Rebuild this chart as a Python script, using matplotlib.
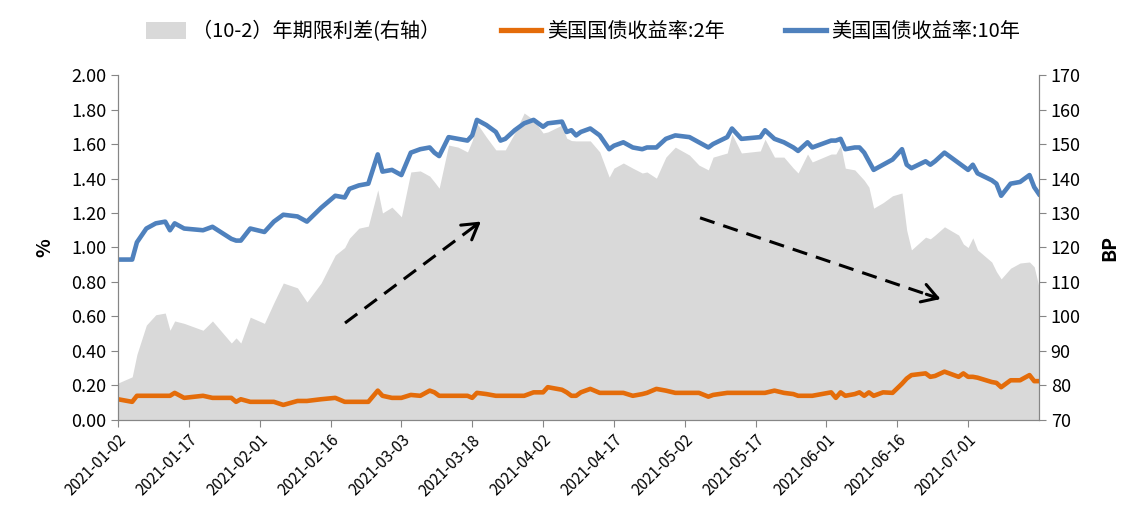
import matplotlib
matplotlib.use("Agg")
import matplotlib.pyplot as plt
import matplotlib.dates as mdates
import matplotlib.ticker as ticker
from matplotlib.patches import Patch
from matplotlib.lines import Line2D
import pandas as pd

plt.rcParams['font.family'] = ['Noto Sans CJK SC', 'DejaVu Sans']

# --- data (days counted from 2021-01-02)
day = [0, 3, 4, 6, 8, 10, 11, 12, 14, 18, 20, 24, 25, 26, 28, 31, 33, 35, 38, 40,
       43, 46, 48, 49, 51, 53, 55, 56, 58, 60, 62, 64, 66, 67, 68, 70, 72, 74, 75, 76,
       78, 80, 81, 82, 84, 86, 88, 90, 91, 94, 95, 96, 97, 98, 100, 102, 104, 105, 107, 109,
       111, 112, 114, 116, 118, 121, 123, 125, 126, 129, 130, 132, 136, 137, 139, 141, 143, 144, 146, 147,
       151, 152, 153, 154, 156, 157, 158, 159, 160, 162, 164, 166, 167, 168, 171, 172, 173, 175, 178, 179,
       180, 181, 182, 185, 186, 187, 189, 191, 193, 194, 195]

us10y = [0.93, 0.93, 1.03, 1.11, 1.14, 1.15, 1.10, 1.14, 1.11, 1.10, 1.12, 1.05, 1.04, 1.04, 1.11, 1.09, 1.15, 1.19, 1.18, 1.15,
         1.23, 1.30, 1.29, 1.34, 1.36, 1.37, 1.54, 1.44, 1.45, 1.42, 1.55, 1.57, 1.58, 1.55, 1.53, 1.64, 1.63, 1.62, 1.65, 1.74,
         1.71, 1.67, 1.62, 1.63, 1.68, 1.72, 1.74, 1.70, 1.72, 1.73, 1.67, 1.68, 1.65, 1.67, 1.69, 1.65, 1.57, 1.59, 1.61, 1.58,
         1.57, 1.58, 1.58, 1.63, 1.65, 1.64, 1.61, 1.58, 1.60, 1.64, 1.69, 1.63, 1.64, 1.68, 1.63, 1.61, 1.58, 1.56, 1.61, 1.58,
         1.62, 1.62, 1.63, 1.57, 1.58, 1.58, 1.55, 1.50, 1.45, 1.48, 1.51, 1.57, 1.48, 1.46, 1.50, 1.48, 1.50, 1.55, 1.49, 1.47,
         1.45, 1.48, 1.43, 1.39, 1.37, 1.30, 1.37, 1.38, 1.42, 1.35, 1.31]

us2y = [0.12, 0.105, 0.14, 0.14, 0.14, 0.14, 0.14, 0.157, 0.128, 0.14, 0.128, 0.128, 0.105, 0.12, 0.105, 0.105, 0.105, 0.087, 0.11, 0.11,
        0.12, 0.128, 0.105, 0.105, 0.105, 0.105, 0.17, 0.14, 0.128, 0.128, 0.145, 0.14, 0.17, 0.16, 0.14, 0.14, 0.14, 0.14, 0.128, 0.157,
        0.15, 0.14, 0.14, 0.14, 0.14, 0.14, 0.16, 0.16, 0.19, 0.175, 0.16, 0.14, 0.14, 0.16, 0.18, 0.157, 0.157, 0.157, 0.157, 0.14,
        0.15, 0.157, 0.18, 0.17, 0.157, 0.157, 0.157, 0.135, 0.145, 0.157, 0.157, 0.157, 0.157, 0.157, 0.17, 0.157, 0.15, 0.14, 0.14, 0.14,
        0.16, 0.128, 0.16, 0.14, 0.15, 0.16, 0.14, 0.16, 0.14, 0.16, 0.157, 0.21, 0.24, 0.26, 0.27, 0.25, 0.255, 0.28, 0.25, 0.27,
        0.25, 0.25, 0.245, 0.22, 0.215, 0.19, 0.23, 0.23, 0.26, 0.225, 0.225]

spread_bp = [80.7, 82.5, 89, 97.5, 100.5, 101, 96, 98.7, 98, 96, 98.7, 92.3, 93.8, 92.3, 99.8, 98, 104, 109.7, 108.3, 104.2,
             109.7, 117.8, 120, 122.7, 125.6, 126.2, 136.7, 130, 131.7, 128.9, 141.9, 142.2, 140.7, 139, 137.2, 149.7, 149.1, 147.7, 151, 156,
             152, 148.3, 148.3, 148.3, 153.2, 159, 157, 153.2, 153.5, 155.5, 151.7, 151, 150.9, 150.9, 150.9, 147.7, 140.4, 143, 144.5, 143,
             141.6, 141.9, 140.1, 146.2, 149.1, 146.8, 143.9, 142.5, 146.2, 147.4, 152.9, 147.4, 148, 151.4, 146.2, 146.2, 143, 141.6, 147.1, 144.8,
             147.1, 147.1, 149.7, 143, 142.5, 141, 139.5, 137.5, 131.4, 133, 135, 135.8, 125, 119.3, 123, 122.5, 123.6, 126, 123.6, 121,
             120, 122.8, 119.3, 115.8, 113, 110.9, 114, 115.5, 115.8, 114.4, 108.6]

label_spread = "（10-2）年期限利差(右轴）"
label_2y = "美国国债收益率:2年"
label_10y = "美国国债收益率:10年"

start = pd.Timestamp("2021-01-02")
dates = start + pd.to_timedelta(day, unit="D")

c_area = "#D9D9D9"
c_2y = "#E46C0A"
c_10y = "#4F81BD"
c_axis = "#868686"

fig = plt.figure(figsize=(11.48, 5.14), dpi=100)
ax = fig.add_axes([0.1028, 0.183, 0.8022, 0.671])
ax2 = ax.twinx()

# -- spread as area on the right axis
ax2.fill_between(dates, 70, spread_bp, color=c_area, lw=0)
ax2.set_ylim(70, 170)
ax2.yaxis.set_major_locator(ticker.MultipleLocator(10))

# -- yields on the left axis
ax.plot(dates, us2y, color=c_2y, lw=3.3, solid_joinstyle="round")
ax.plot(dates, us10y, color=c_10y, lw=3.3, solid_joinstyle="round")
ax.set_ylim(0, 2)
ax.yaxis.set_major_locator(ticker.MultipleLocator(0.2))
ax.yaxis.set_major_formatter(ticker.FormatStrFormatter("%.2f"))

ax.set_zorder(ax2.get_zorder() + 1)
ax.patch.set_visible(False)

ax.set_xlim(start, start + pd.Timedelta(days=195))
ax.set_xticks(pd.date_range("2021-01-02", "2021-07-01", freq="15D"))
ax.xaxis.set_major_formatter(mdates.DateFormatter("%Y-%m-%d"))
plt.setp(ax.get_xticklabels(), rotation=45, ha="right", rotation_mode="anchor", fontsize=11)

for a in (ax, ax2):
    a.spines["top"].set_visible(False)
    for s in ("left", "right", "bottom"):
        a.spines[s].set_color(c_axis)
    a.tick_params(colors=c_axis, labelcolor="black", length=5, labelsize=13)
ax.tick_params(axis="x", labelsize=11)

ax.set_ylabel("%", fontsize=14, fontweight="bold", labelpad=12)
ax2.set_ylabel("BP", fontsize=14, fontweight="bold", labelpad=14)

# -- trend arrows
for (x0, y0), (x1, y1) in [((0.2465, 0.281), (0.3964, 0.580)),
                           ((0.632, 0.586), (0.896, 0.348))]:
    ax.plot([x0, x1 - (x1 - x0) * 0.02], [y0, y1 - (y1 - y0) * 0.02], transform=ax.transAxes,
            color="black", lw=2.2, ls=(0, (5, 3)), zorder=5)
    ax.annotate("", xy=(x1, y1), xycoords="axes fraction",
                xytext=(x1 - (x1 - x0) * 0.08, y1 - (y1 - y0) * 0.08), textcoords="axes fraction",
                arrowprops=dict(arrowstyle="->,head_length=0.5,head_width=0.3",
                                color="black", lw=2.2, mutation_scale=22),
                zorder=5)

handles = [Patch(facecolor=c_area, edgecolor="none"),
           Line2D([], [], color=c_2y, lw=3.8),
           Line2D([], [], color=c_10y, lw=3.8)]
fig.legend(handles, [label_spread, label_2y, label_10y], loc="center",
           bbox_to_anchor=(0.508, 0.938), ncol=3, frameon=False, fontsize=14.5,
           handlelength=2.0, handleheight=0.9, handletextpad=0.3, columnspacing=3.0)

fig.savefig("out.png", dpi=100, facecolor="white")
